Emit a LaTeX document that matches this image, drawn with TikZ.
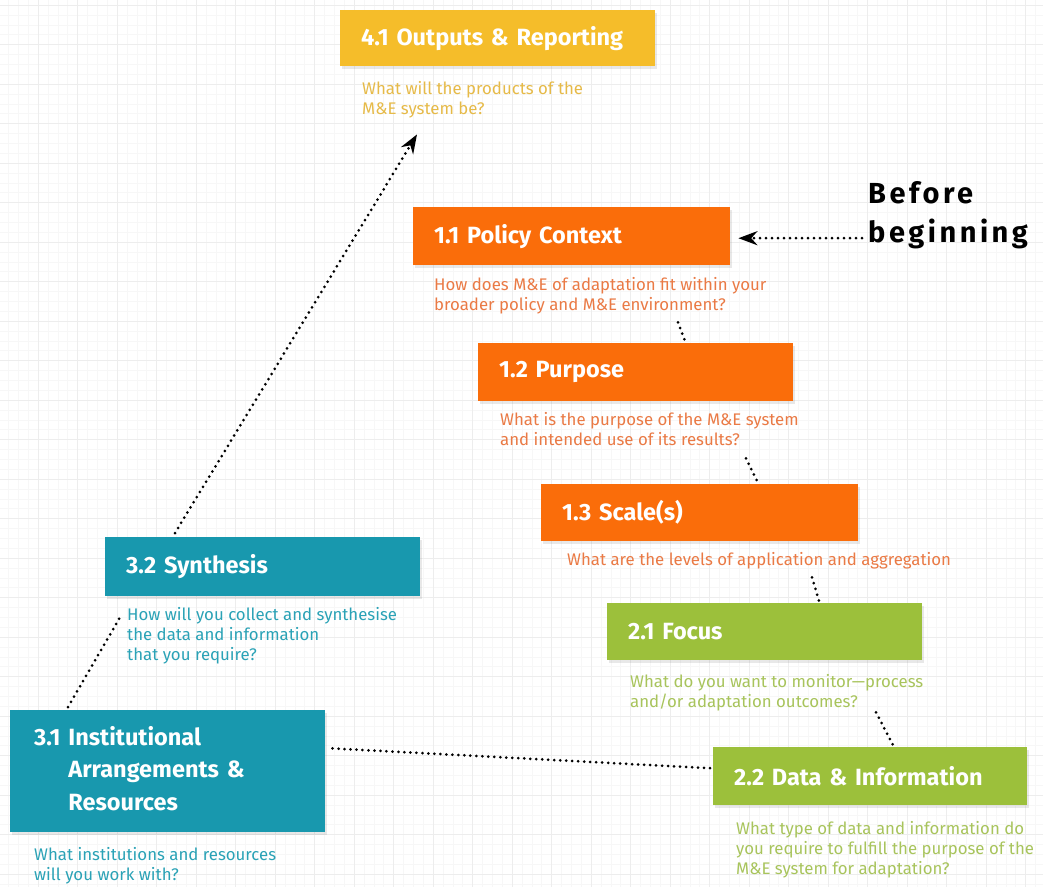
\documentclass[tikz,border=0pt]{standalone}
\usepackage{fontspec}
\setmainfont{Fira Sans}
\newfontfamily\bbfont{Fira Sans}[LetterSpace=12.0]
\usetikzlibrary{calc,shadows,arrows.meta}
\definecolor{yelbox}{HTML}{F5BD2A}
\definecolor{yeltxt}{HTML}{E6BA48}
\definecolor{orabox}{HTML}{FA6D0A}
\definecolor{oratxt}{HTML}{EA7A45}
\definecolor{grnbox}{HTML}{9CC03B}
\definecolor{grntxt}{HTML}{A8C45C}
\definecolor{tealbox}{HTML}{1898AE}
\definecolor{tealtxt}{HTML}{2AA2B6}
\tikzset{
  box/.style={fill=#1, draw=none, anchor=north west, inner xsep=21pt, inner ysep=0pt,
    text=white, font=\fontsize{23.5}{32.5}\selectfont\bfseries, align=left,
    drop shadow={opacity=0.18, shadow xshift=2pt, shadow yshift=-3pt}},
  sub/.style={anchor=north west, inner sep=0pt, text=#1,
    font=\fontsize{16.8}{20}\selectfont, align=left},
  dotline/.style={line width=3pt, dash pattern=on 0pt off 6pt, line cap=round},
  arr/.style={-{Stealth[length=19pt,width=14pt]}}
}
\begin{document}
\begin{tikzpicture}[x=1pt,y=-1pt]
\useasboundingbox (0,0) rectangle (1043,887);
\fill[white] (0,0) rectangle (1043,887);
% grid
\foreach \i in {0,...,105} {
  \draw[black!3, line width=0.4pt] ({\i*9.875-1.5},0) -- ({\i*9.875-1.5},887);
}
\foreach \i in {0,...,90} {
  \draw[black!3, line width=0.4pt] (0,{\i*9.875+5}) -- (1043,{\i*9.875+5});
}
\foreach \i in {0,...,27} {
  \draw[black!7, line width=0.5pt] ({\i*39.5-1.5},0) -- ({\i*39.5-1.5},887);
}
\foreach \i in {0,...,23} {
  \draw[black!7, line width=0.5pt] (0,{\i*39.5+5}) -- (1043,{\i*39.5+5});
}
% boxes
\node[box=yelbox, text width=273pt, minimum height=56pt] (b41) at (340,10) {4.1 Outputs \& Reporting};
\node[box=orabox, text width=275pt, minimum height=58pt] (b11) at (413,207) {1.1 Policy Context};
\node[box=orabox, text width=273pt, minimum height=58pt] (b12) at (478,343) {1.2 Purpose};
\node[box=orabox, text width=275pt, minimum height=57pt] (b13) at (541,484) {1.3 Scale(s)};
\node[box=grnbox, text width=273pt, minimum height=57pt] (b21) at (607,603) {2.1 Focus};
\node[box=grnbox, text width=272pt, minimum height=58pt] (b22) at (713,747) {2.2 Data \& Information};
\node[box=tealbox, text width=273pt, minimum height=59pt] (b32) at (105,537) {3.2 Synthesis};
\node[box=tealbox, minimum height=122pt, inner xsep=0pt, text width=315pt] (b31) at (10,710)
  {\hspace*{24pt}\begin{tabular}{@{}l@{ }l@{}}3.1&Institutional\\&Arrangements \&\\&Resources\end{tabular}};
% sub texts
\node[sub=yeltxt] (s41) at (362,81) {What will the products of the\\M\&E system be?};
\node[sub=oratxt] (s11) at (434,277) {How does M\&E of adaptation fit within your\\broader policy and M\&E environment?};
\node[sub=oratxt] (s12) at (500,412) {What is the purpose of the M\&E system\\and intended use of its results?};
\node[sub=oratxt] (s13) at (567,552) {What are the levels of application and aggregation};
\node[sub=grntxt] (s21) at (630,674) {What do you want to monitor—process\\and/or adaptation outcomes?};
\node[sub=grntxt] (s22) at (736,821) {What type of data and information do\\you require to fulfill the purpose of the\\M\&E system for adaptation?};
\node[sub=tealtxt] (s32) at (127,607) {How will you collect and synthesise\\the data and information\\that you require?};
\node[sub=tealtxt] (s31) at (34,847) {What institutions and resources\\will you work with?};
% before beginning
\node[anchor=north west, inner sep=0pt, align=left, font=\fontsize{29}{39}\selectfont\bbfont\bfseries] (bb) at (868,181) {Before\\beginning};
% connectors
\draw[dotline] ($(b11.south west)+(265,57)$) -- ($(b12.north west)+(207,-2)$);
\draw[dotline] ($(b12.south west)+(268,57)$) -- ($(b13.north west)+(217,-1)$);
\draw[dotline] ($(b13.south west)+(271,36)$) -- ($(b21.north west)+(212,-2)$);
\draw[dotline] ($(b21.south west)+(269,52)$) -- ($(b22.north west)+(180,-2)$);
\draw[dotline] ($(b22.west)+(-3,-8)$) -- ($(b31.east)+(3,-23)$);
\draw[dotline] ($(b31.north west)+(58,-3)$) -- ($(b32.south west)+(15,21)$);
\draw[dotline, arr] ($(b32.north west)+(70,-4)$) -- ($(b41.south west)+(77,68)$);
\draw[dotline, arr] (bb.west |- b11.east) ++(-6,2) -- ($(b11.east)+(8,2)$);
\end{tikzpicture}
\end{document}
